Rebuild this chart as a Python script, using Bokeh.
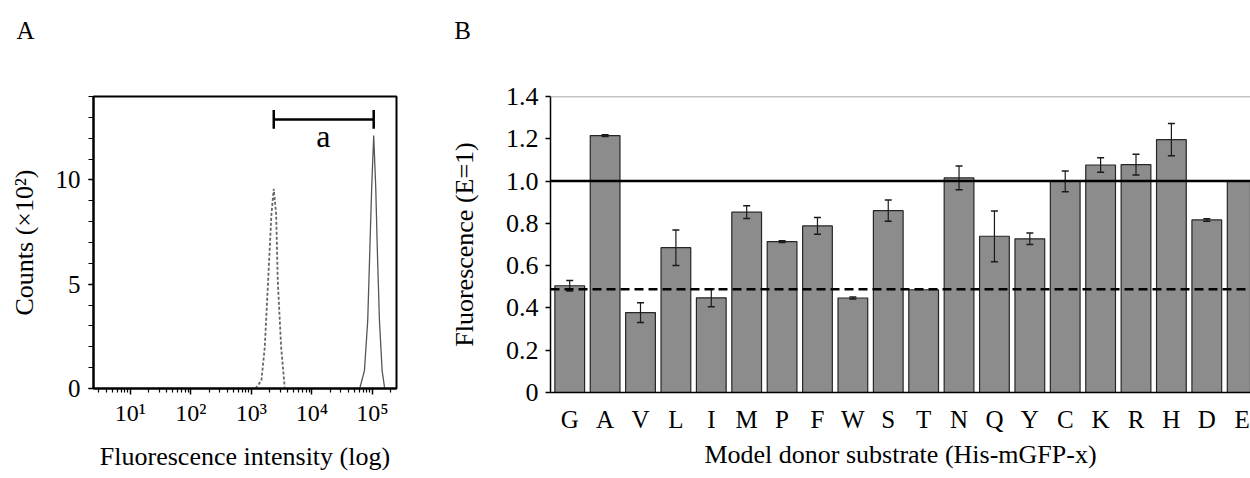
from bokeh.plotting import figure
from bokeh.layouts import row, column
from bokeh.models import (ColumnDataSource, Whisker, TeeHead, Span, Label,
                          FixedTicker, SingleIntervalTicker, Range1d)
from bokeh.core.properties import value
from bokeh.embed import file_html
from bokeh.resources import INLINE

FONT = "Liberation Serif"

# ---------------- Panel A data (flow cytometry histograms) ----------------
dashed_x = [1164, 1462, 1660, 1889, 2142, 2339, 2561, 2722, 3098, 3560]
dashed_y = [0.0, 0.38, 1.98, 5.18, 8.37, 9.57, 8.37, 5.18, 1.98, 0.0]
solid_x = [61650, 73800, 83600, 90200, 97300, 105000, 113400, 121000, 130600, 144600, 159600]
solid_y = [0.0, 0.86, 3.26, 6.46, 9.65, 12.13, 9.65, 6.46, 3.26, 0.86, 0.0]
log_tick_values = [10, 100, 1000, 10000, 100000]
log_tick_labels = ["10¹", "10²", "10³", "10⁴", "10⁵"]
bracket_level = 12.9
bracket_label = "a"

# ---------------- Panel B data (bar chart) ----------------
categories = ["G", "A", "V", "L", "I", "M", "P", "F", "W", "S",
              "T", "N", "Q", "Y", "C", "K", "R", "H", "D", "E"]
fluorescence = [0.505, 1.215, 0.378, 0.685, 0.448, 0.853, 0.714, 0.788, 0.447, 0.860,
                0.486, 1.015, 0.739, 0.727, 0.999, 1.076, 1.078, 1.196, 0.816, 1.000]
errors = [0.025, 0.004, 0.047, 0.084, 0.042, 0.030, 0.004, 0.040, 0.005, 0.050,
          0.0, 0.056, 0.120, 0.027, 0.049, 0.034, 0.049, 0.076, 0.006, 0.0]
reference_level = 1.0
baseline_level = 0.488
y_ticks_b = [0, 0.2, 0.4, 0.6, 0.8, 1.0, 1.2, 1.4]
y_tick_labels_b = ["0", "0.2", "0.4", "0.6", "0.8", "1.0", "1.2", "1.4"]

panel_letters = ["A", "B"]

TOTAL_W, TOTAL_H = 1250, 478

# ======================= Panel letters strip =======================
STRIP_H = 48
strip = figure(width=TOTAL_W, height=STRIP_H, x_range=Range1d(0, TOTAL_W), y_range=Range1d(STRIP_H, 0),
               x_axis_location=None, y_axis_location=None, min_border=0,
               output_backend="svg", toolbar_location=None)
strip.outline_line_color = None
strip.grid.visible = False
strip.text(x=[25, 462], y=[29.5, 29.5], text=panel_letters, text_font=value(FONT),
           text_font_size="25px", text_align="center", text_baseline="middle",
           text_color="black")

ROW_H = TOTAL_H - STRIP_H
A_W = 442

# ======================= Panel A =======================
pA = figure(width=A_W, height=ROW_H - 4, x_axis_type="log",
            x_range=Range1d(2.45, 2.5e5), y_range=Range1d(0, 14),
            output_backend="svg", toolbar_location=None,
            min_border_left=93, min_border_right=46,
            min_border_top=48, min_border_bottom=86)
pA.grid.visible = False
pA.outline_line_color = "black"
pA.outline_line_width = 2
pA.background_fill_color = "white"
pA.border_fill_color = "white"

pA.line(dashed_x, dashed_y, line_color="#666666", line_width=1.8, line_dash="3 2")
pA.line(solid_x, solid_y, line_color="#555555", line_width=1.3)

# bracket "a" between the two histogram peaks
x_lo = dashed_x[dashed_y.index(max(dashed_y))]
x_hi = solid_x[solid_y.index(max(solid_y))]
pA.segment(x0=[x_lo, x_lo, x_hi], y0=[bracket_level, bracket_level - 0.45, bracket_level - 0.45],
           x1=[x_hi, x_lo, x_hi], y1=[bracket_level, bracket_level + 0.45, bracket_level + 0.45],
           line_color="black", line_width=2.5)
pA.add_layout(Label(x=15500, y=12.1, text=bracket_label, text_font=FONT,
                    text_font_size="32px", text_align="center", text_baseline="middle",
                    text_color="black"))

minor_log = [m * 10 ** k for k in range(0, 6) for m in range(2, 10)]
pA.xaxis.ticker = FixedTicker(ticks=log_tick_values, minor_ticks=minor_log)
pA.xaxis.major_label_overrides = dict(zip(log_tick_values, log_tick_labels))
pA.yaxis.ticker = SingleIntervalTicker(interval=5, num_minor_ticks=5)

for ax in (pA.xaxis[0], pA.yaxis[0]):
    ax.axis_line_color = "black"
    ax.axis_line_width = 2
    ax.major_tick_line_color = "black"
    ax.minor_tick_line_color = "black"
    ax.major_tick_line_width = 1.5
    ax.minor_tick_line_width = 1.2
    ax.major_tick_in = 0
    ax.minor_tick_in = 0
    ax.major_label_text_font = FONT
    ax.major_label_text_color = "black"
    ax.axis_label_text_font = FONT
    ax.axis_label_text_font_style = "normal"
    ax.axis_label_text_color = "black"
    ax.axis_label_text_font_size = "26px"

pA.xaxis.major_tick_out = 6
pA.xaxis.minor_tick_out = 4
pA.xaxis.major_label_text_font_size = "24px"
pA.xaxis.major_label_standoff = 5
pA.xaxis.axis_label = "Fluorescence intensity (log)"
pA.xaxis.axis_label_standoff = 13

pA.yaxis.major_tick_out = 5
pA.yaxis.minor_tick_out = 5
pA.yaxis.major_label_text_font_size = "25px"
pA.yaxis.major_label_standoff = 8
pA.yaxis.axis_label = "Counts (×10²)"
pA.yaxis.axis_label_standoff = 14

# ======================= Panel B =======================
idx = list(range(len(categories)))
src = ColumnDataSource(dict(x=idx, top=fluorescence))
err_src = ColumnDataSource(dict(
    x=[i for i, e in zip(idx, errors) if e > 0],
    upper=[v + e for v, e in zip(fluorescence, errors) if e > 0],
    lower=[v - e for v, e in zip(fluorescence, errors) if e > 0]))

pB = figure(width=TOTAL_W - A_W, height=ROW_H, x_range=Range1d(-0.543, 19.235),
            y_range=Range1d(0, 1.4),
            output_backend="svg", toolbar_location=None,
            min_border_left=108, min_border_right=0,
            min_border_top=48, min_border_bottom=86)
pB.grid.visible = False
pB.outline_line_color = None
pB.background_fill_color = "white"
pB.border_fill_color = "white"

pB.vbar(x="x", top="top", bottom=0, width=0.84, source=src,
        fill_color="#8c8c8c", line_color="#262626", line_width=1.2)

pB.add_layout(Whisker(base="x", upper="upper", lower="lower", source=err_src,
                      level="annotation", line_color="#1a1a1a", line_width=1.2,
                      upper_head=TeeHead(size=7, line_color="#1a1a1a", line_width=1.5),
                      lower_head=TeeHead(size=7, line_color="#1a1a1a", line_width=1.5)))

pB.add_layout(Span(location=1.4, dimension="width", line_color="#8a8a8a", line_width=1.5))
pB.add_layout(Span(location=reference_level, dimension="width", line_color="black", line_width=2.5))
pB.add_layout(Span(location=baseline_level, dimension="width", line_color="black",
                   line_width=2.5, line_dash="9 5"))

pB.xaxis.ticker = FixedTicker(ticks=idx)
pB.xaxis.major_label_overrides = dict(zip(idx, categories))
pB.yaxis.ticker = FixedTicker(ticks=y_ticks_b)
pB.yaxis.major_label_overrides = dict(zip(y_ticks_b, y_tick_labels_b))

for ax in (pB.xaxis[0], pB.yaxis[0]):
    ax.axis_line_color = "black"
    ax.axis_line_width = 1.5
    ax.major_tick_line_color = "black"
    ax.major_tick_line_width = 1.5
    ax.minor_tick_line_color = None
    ax.major_tick_in = 0
    ax.major_label_text_font = FONT
    ax.major_label_text_color = "black"
    ax.axis_label_text_font = FONT
    ax.axis_label_text_font_style = "normal"
    ax.axis_label_text_color = "black"
    ax.axis_label_text_font_size = "26px"

pB.xaxis.major_tick_out = 0
pB.xaxis.major_tick_line_color = None
pB.xaxis.major_label_text_font_size = "25px"
pB.xaxis.major_label_standoff = 13
pB.xaxis.axis_label = "Model donor substrate (His-mGFP-x)"
pB.xaxis.axis_label_standoff = 4

pB.yaxis.major_tick_out = 5
pB.yaxis.major_label_text_font_size = "26px"
pB.yaxis.major_label_standoff = 7
pB.yaxis.axis_label = "Fluorescence (E=1)"
pB.yaxis.axis_label_standoff = 24

layout = column(strip, row(pA, pB))
open("out.html", "w").write(file_html(layout, INLINE))
